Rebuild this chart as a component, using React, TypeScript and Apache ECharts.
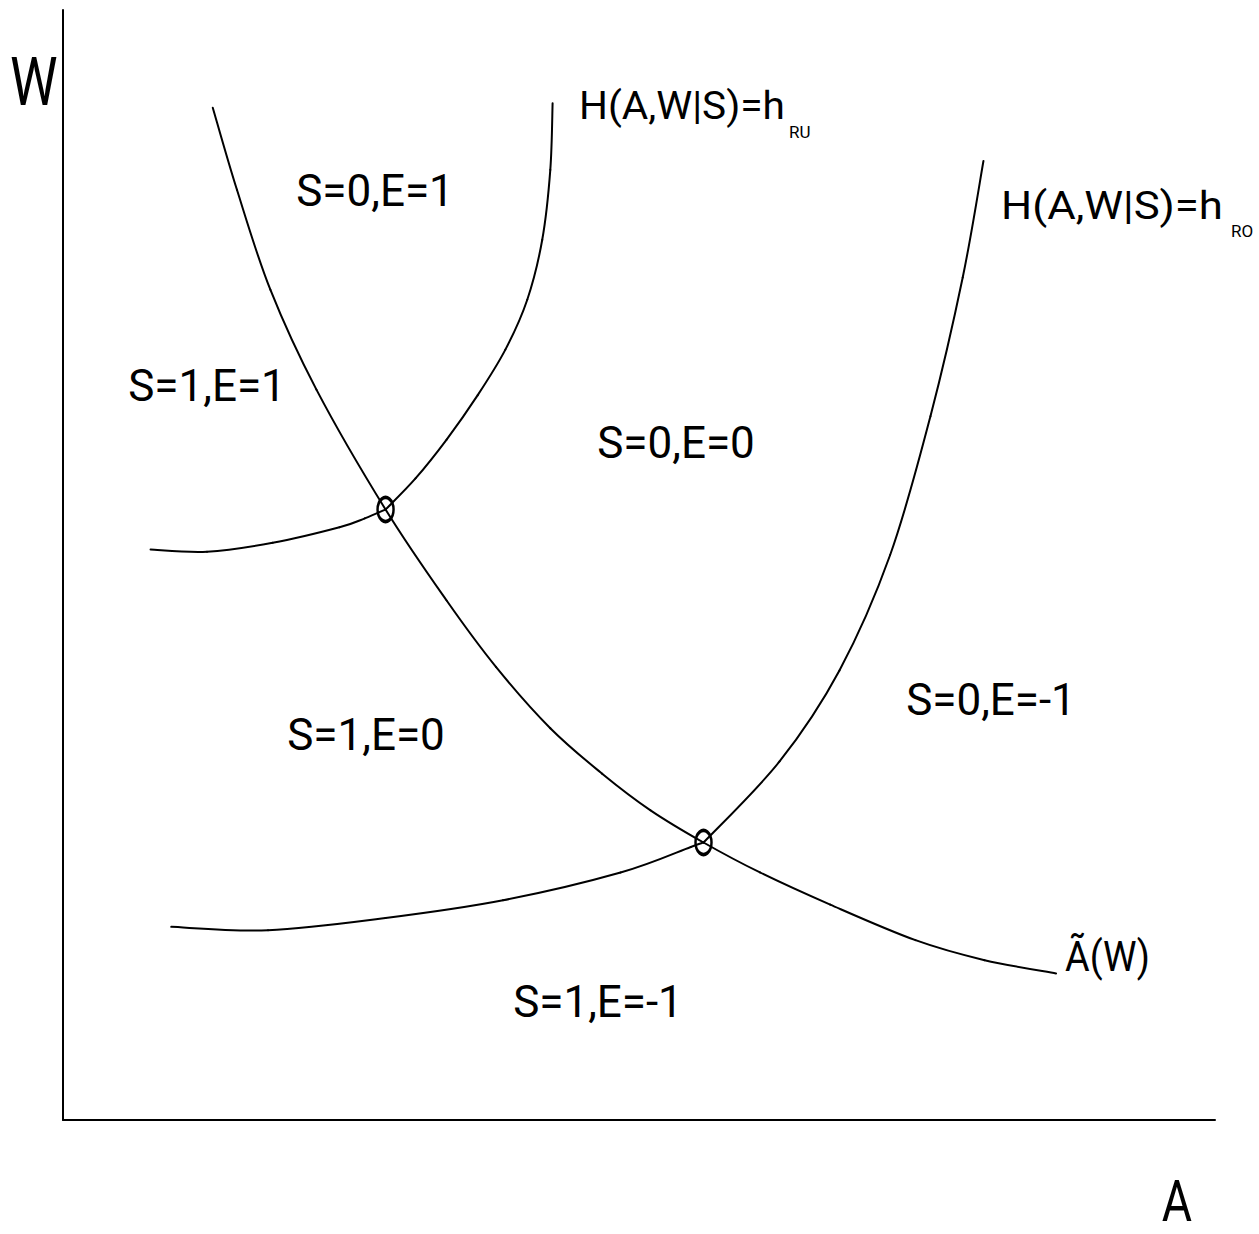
import React, { useEffect, useRef } from "react";
import * as echarts from "echarts";

// Curves (A on x, W on y, both 0..100)
const aTildeCurve: [number, number][] = [
  [13.0, 91.2], [15.1, 83.8], [18.0, 74.8], [22.0, 65.8], [28.0, 55.0],
  [33.3, 46.8], [37.6, 40.8], [42.3, 35.3], [46.8, 31.2], [51.0, 27.9],
  [55.6, 25.0], [60.5, 22.3], [66.6, 19.4], [74.0, 16.2], [80.0, 14.4],
  [86.2, 13.2],
];
const hRuLower: [number, number][] = [
  [7.6, 51.4], [12.5, 51.2], [18.2, 52.0], [24.0, 53.4], [26.2, 54.2], [28.0, 55.0],
];
const hRuUpper: [number, number][] = [
  [28.0, 55.0], [30.6, 57.8], [33.3, 61.3], [36.0, 65.3], [38.4, 69.4],
  [40.3, 73.9], [41.6, 79.3], [42.3, 85.6], [42.5, 91.6],
];
const hRoLower: [number, number][] = [
  [9.4, 17.4], [17.8, 17.1], [28.0, 18.2], [38.2, 19.8], [48.4, 22.3],
  [54.5, 24.6], [55.6, 25.0],
];
const hRoUpper: [number, number][] = [
  [55.6, 25.0], [62.2, 32.3], [67.4, 40.5], [71.8, 50.9], [75.3, 63.4],
  [78.1, 75.9], [79.9, 86.4],
];
const intersections: [number, number][] = [[28.0, 55.0], [55.6, 25.0]];

const regionTexts = ["S=0,E=1", "S=1,E=1", "S=0,E=0", "S=1,E=0", "S=0,E=-1", "S=1,E=-1"];
const curveLabelMain = "H(A,W|S)=h";
const curveSubs = ["RU", "RO"];
const aTildeLabel = "Ã(W)";
const axisNames = { x: "A", y: "W" };

const FONT = "Roboto, 'Liberation Sans', sans-serif";

// layout (pixels)
const regionPos: [number, number][] = [
  [375, 191], [207, 386], [676, 443], [366, 735], [991, 700], [598, 1002],
];

function measure(text: string, size: number): number {
  const ctx = document.createElement("canvas").getContext("2d");
  if (!ctx) return text.length * size * 0.5;
  ctx.font = `${size}px ${FONT}`;
  return ctx.measureText(text).width;
}

// A curve drawn segment by segment (Catmull-Rom) through the axes' scales
function smoothCurve(pts: [number, number][]) {
  return {
    type: "custom",
    data: pts,
    z: 2,
    silent: true,
    renderItem: (params: any, api: any) => {
      const i = params.dataIndex;
      if (i >= pts.length - 1) return null;
      const p = (k: number) => api.coord(pts[Math.max(0, Math.min(pts.length - 1, k))]);
      const p0 = p(i - 1);
      const p1 = p(i);
      const p2 = p(i + 1);
      const p3 = p(i + 2);
      const t = 1 / 6;
      return {
        type: "bezierCurve",
        shape: {
          x1: p1[0],
          y1: p1[1],
          x2: p2[0],
          y2: p2[1],
          cpx1: p1[0] + (p2[0] - p0[0]) * t,
          cpy1: p1[1] + (p2[1] - p0[1]) * t,
          cpx2: p2[0] - (p3[0] - p1[0]) * t,
          cpy2: p2[1] - (p3[1] - p1[1]) * t,
        },
        style: { stroke: "#000", lineWidth: 2, fill: "none", lineCap: "round" },
      };
    },
  };
}

export default function App() {
  const ref = useRef<HTMLDivElement>(null);
  useEffect(() => {
    if (!ref.current) return;
    const chart = echarts.init(ref.current, undefined, { renderer: "svg" });
    const black = "#000";
    const mainSize = 39;
    const mainW = measure(curveLabelMain, mainSize);
    const txt = (
      text: string,
      x: number,
      y: number,
      size: number,
      align = "left",
      scaleX = 1
    ) => ({
      type: "text",
      x,
      y,
      scaleX,
      silent: true,
      style: {
        text,
        fill: black,
        font: `${size}px ${FONT}`,
        align,
        verticalAlign: "middle",
      },
    });
    chart.setOption({
      animation: false,
      backgroundColor: "#fff",
      grid: { left: 63, top: 10, width: 1152, height: 1110, containLabel: false },
      xAxis: {
        type: "value",
        min: 0,
        max: 100,
        axisLine: { show: true, lineStyle: { color: black, width: 2 } },
        axisTick: { show: false },
        axisLabel: { show: false },
        splitLine: { show: false },
      },
      yAxis: {
        type: "value",
        min: 0,
        max: 100,
        axisLine: { show: true, lineStyle: { color: black, width: 2 } },
        axisTick: { show: false },
        axisLabel: { show: false },
        splitLine: { show: false },
      },
      series: [
        smoothCurve(aTildeCurve),
        smoothCurve(hRuLower),
        smoothCurve(hRuUpper),
        smoothCurve(hRoLower),
        smoothCurve(hRoUpper),
        {
          type: "scatter",
          data: intersections,
          symbol: "circle",
          symbolSize: [16, 24],
          itemStyle: {
            color: "rgba(0,0,0,0)",
            borderColor: black,
            borderWidth: 3,
            opacity: 1,
          },
          z: 3,
        },
      ],
      graphic: [
        ...regionTexts.map((t, i) => txt(t, regionPos[i][0], regionPos[i][1], 44, "center")),
        txt(curveLabelMain, 579, 106, mainSize, "left", 206 / mainW),
        txt(curveSubs[0], 789, 132, 17),
        txt(curveLabelMain, 1001, 206, mainSize, "left", 222 / mainW),
        txt(curveSubs[1], 1231, 231, 17),
        txt(aTildeLabel, 1065, 957, 42, "left", 0.9),
        txt(axisNames.y, 10, 82, 67, "left", 0.8),
        txt(axisNames.x, 1177, 1201, 58, "center", 0.8),
      ],
    });
    return () => chart.dispose();
  }, []);
  return (
    <div
      ref={ref}
      style={{ position: "absolute", left: 0, top: 0, width: 1259, height: 1234, background: "#fff" }}
    />
  );
}
